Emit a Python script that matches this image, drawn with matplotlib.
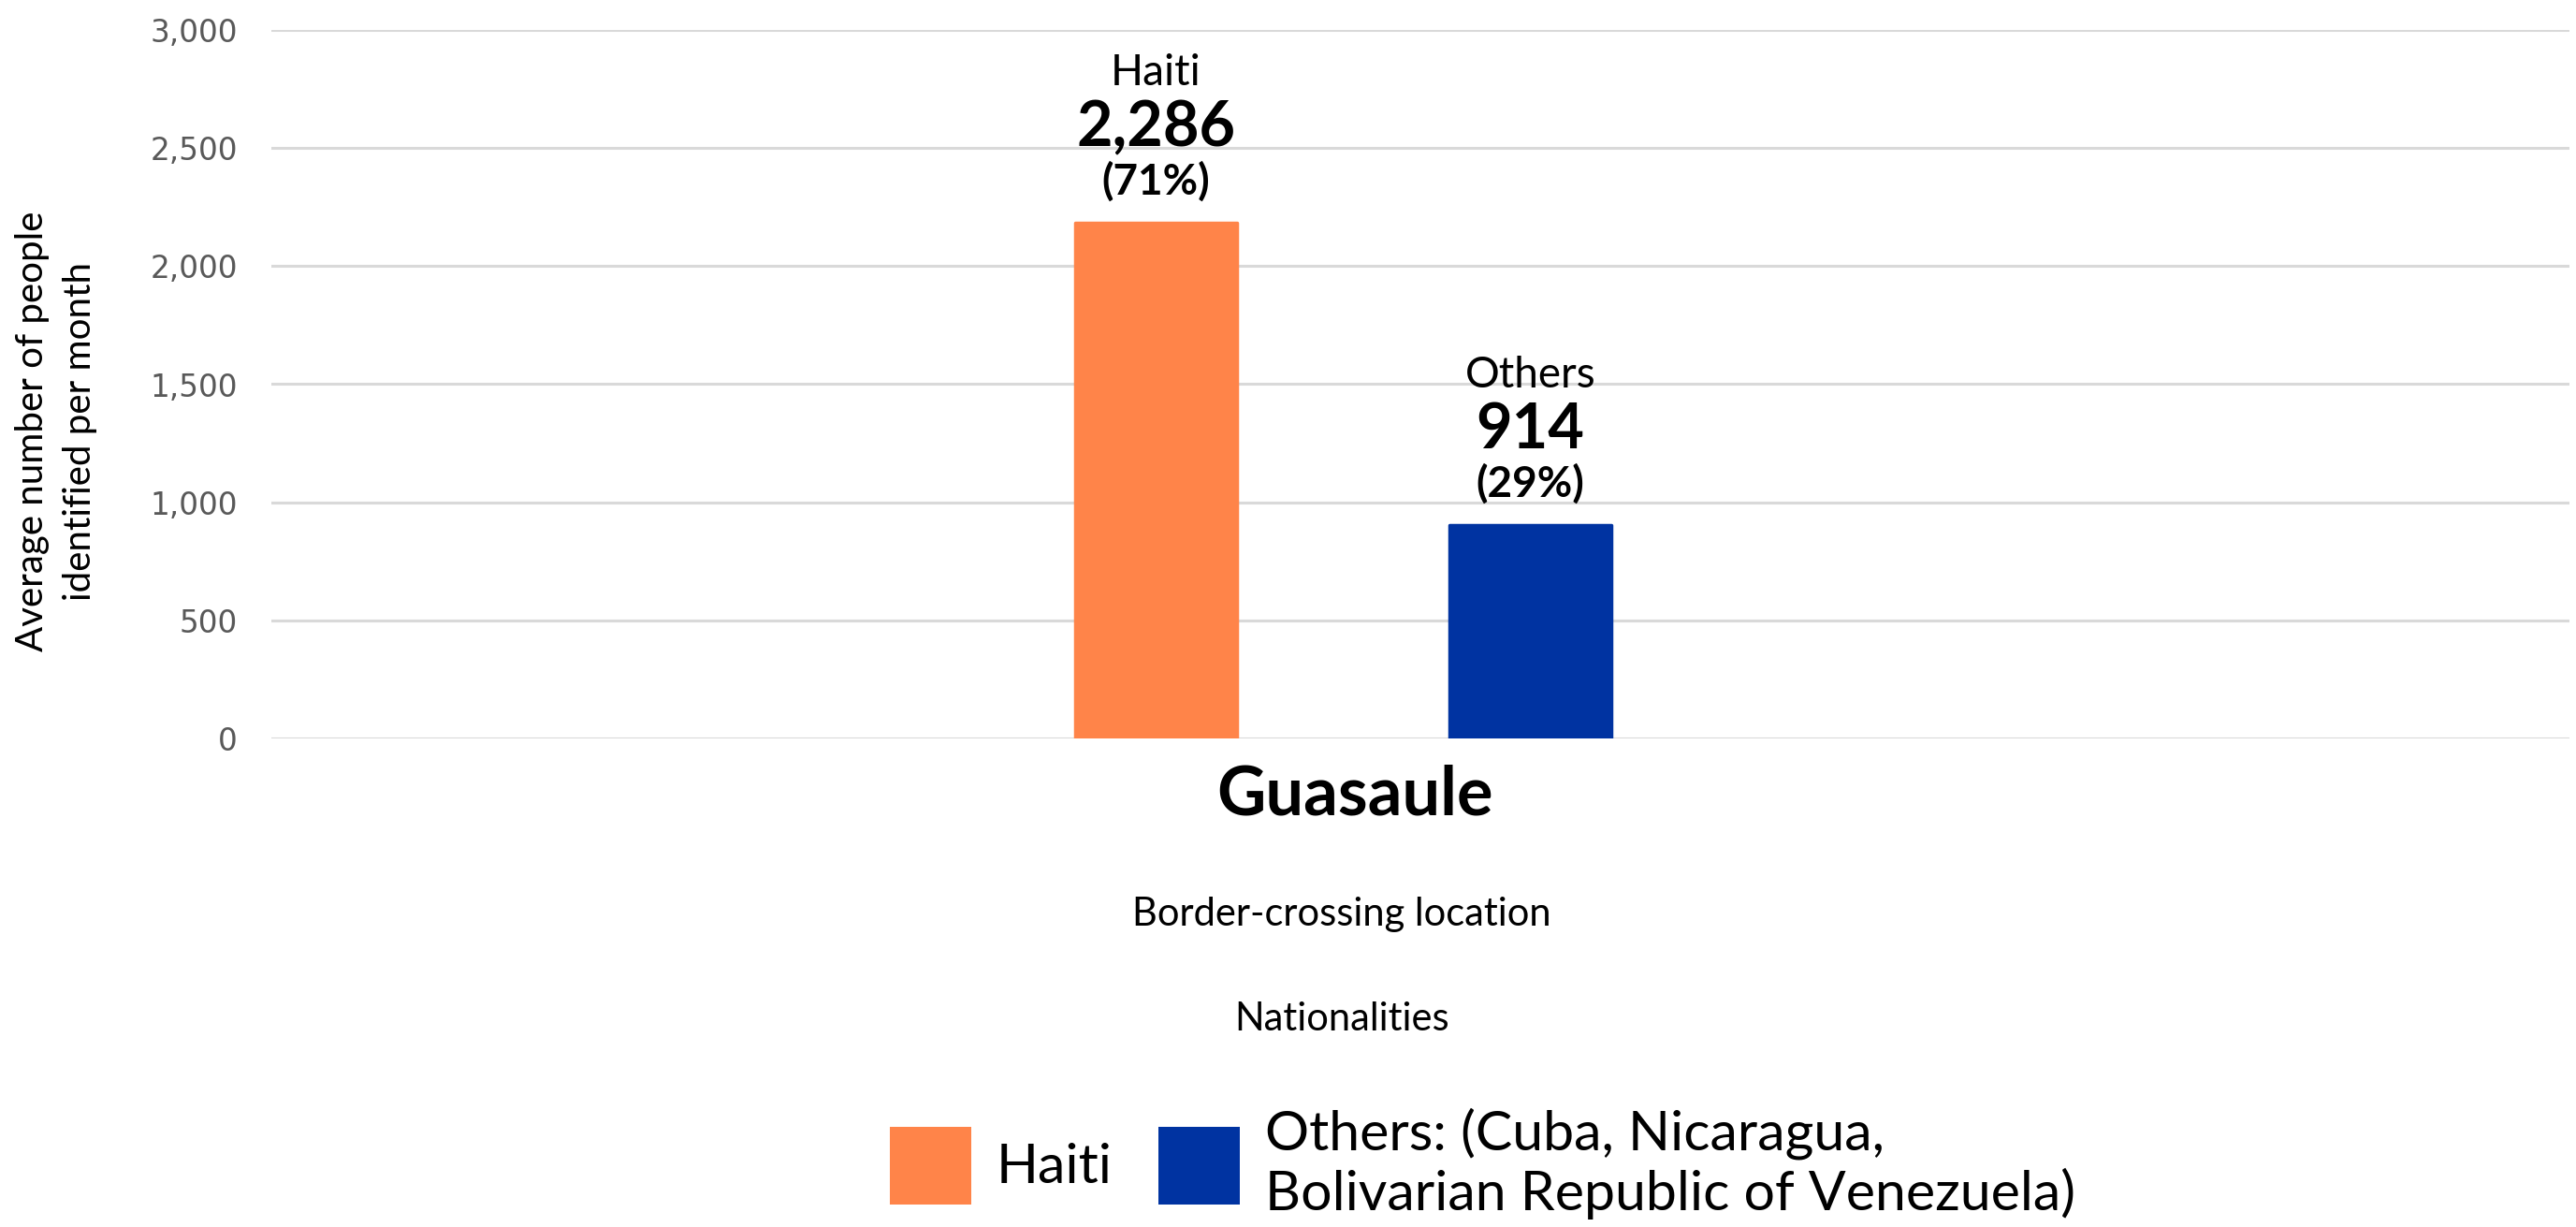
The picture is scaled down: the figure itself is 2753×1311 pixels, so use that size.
import matplotlib
matplotlib.use("Agg")
import matplotlib.pyplot as plt
from matplotlib.patches import Patch

# ---- data ----
series = ["Haiti", "Others"]
bar_values = [2184, 904]           # bar heights as drawn in the picture
label_numbers = ["2,286", "914"]   # printed labels
label_pcts = ["(71%)", "(29%)"]
category = "Guasaule"
legend_labels = ["Haiti", "Others: (Cuba, Nicaragua,\nBolivarian Republic of Venezuela)"]
colors = ["#FF8449", "#0033A1"]
yticks = [0, 500, 1000, 1500, 2000, 2500, 3000]

FONT = "Lato"
DPI = 100
fig = plt.figure(figsize=(27.53, 13.11), dpi=DPI)
W, H = 2753, 1311
ax = fig.add_axes([290 / W, 1 - 789 / H, (2746 - 290) / W, (789 - 32) / H])

offsets = [-0.5, 0.5]
for off, val, col in zip(offsets, bar_values, colors):
    ax.bar(off, val, width=0.4325, color=col, edgecolor=col, linewidth=2.5,
           joinstyle="round", zorder=3)

ax.set_xlim(-2.864, 3.276)
ax.set_ylim(0, 3000)
ax.set_yticks(yticks)
ax.set_yticklabels([f"{v:,}" for v in yticks], fontsize=23.5, color="#595959",
                   family="DejaVu Sans")
ax.tick_params(axis="y", length=0, pad=26)
ax.set_xticks([])
for s in ax.spines.values():
    s.set_visible(False)
ax.grid(axis="y", color="#d9d9d9", linewidth=2.2, zorder=0)
ax.set_axisbelow(True)

# data labels
for off, val, name, num, pct in zip(offsets, bar_values, series, label_numbers, label_pcts):
    ax.annotate(name, (off, val), xytext=(0, 160), textcoords="offset pixels",
                ha="center", va="center", fontsize=33, family=FONT, fontweight="normal")
    ax.annotate(num, (off, val), xytext=(0, 101), textcoords="offset pixels",
                ha="center", va="center", fontsize=48, family=FONT, fontweight="bold")
    ax.annotate(pct, (off, val), xytext=(0, 44), textcoords="offset pixels",
                ha="center", va="center", fontsize=33, family=FONT, fontweight="bold")

# category label
ax.annotate(category, (0, 0), xycoords=("data", "data"), xytext=(12, -61),
            textcoords="offset pixels", ha="center", va="center",
            fontsize=52, family=FONT, fontweight="bold")

fig.text(1434 / W, 1 - 977 / H, "Border-crossing location", ha="center", va="center",
         fontsize=30, family=FONT, fontweight="normal")
fig.text(1434 / W, 1 - 1089 / H, "Nationalities", ha="center", va="center",
         fontsize=30, family=FONT, fontweight="normal")

fig.text(60 / W, 1 - 461 / H, "Average number of people\nidentified per month",
         ha="center", va="center", rotation=90, fontsize=29, family=FONT,
         fontweight="normal", linespacing=1.45)

handles = [Patch(facecolor=c, edgecolor="none") for c in colors]
leg = fig.legend(handles, legend_labels, loc="center", bbox_to_anchor=(0.5755, 1 - 1243 / H),
                 ncol=2, frameon=False, prop={"family": FONT, "size": 42.5, "weight": "normal"},
                 handlelength=1.47, handleheight=1.8, handletextpad=0.45, columnspacing=0.85,
                 labelspacing=0.15)

fig.savefig("out.png", dpi=DPI)
